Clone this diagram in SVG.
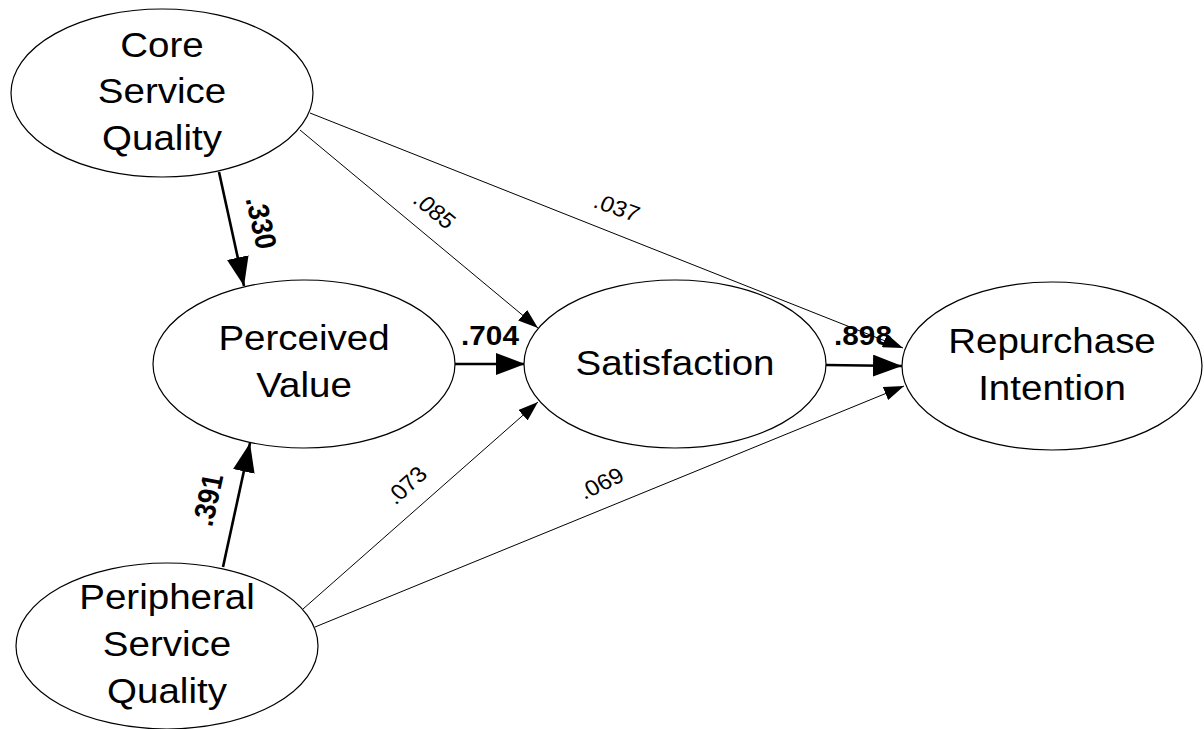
<svg xmlns="http://www.w3.org/2000/svg" width="1204" height="729" viewBox="0 0 1204 729">
<style>
  .node ellipse { fill: #fff; stroke: #000; stroke-width: 1.2; }
  .node text { font-family: "Liberation Sans", Arial, sans-serif; font-size: 35px; fill: #000; text-anchor: middle; }
  .thick { stroke: #000; stroke-width: 2.6; fill: none; marker-end: url(#ahBig); }
  .thin { stroke: #000; stroke-width: 1; fill: none; marker-end: url(#ahSmall); }
  .lbl { font-family: "Liberation Sans", Arial, sans-serif; font-size: 22px; fill: #000; text-anchor: middle; }
  .lblb { font-family: "Liberation Sans", Arial, sans-serif; font-size: 27px; font-weight: bold; fill: #000; text-anchor: middle; }
</style>
<defs>
  <marker id="ahBig" markerUnits="userSpaceOnUse" viewBox="0 0 29 22" markerWidth="29" markerHeight="22" refX="29" refY="11" orient="auto">
    <path d="M0,0 L29,11 L0,22 z" fill="#000"/>
  </marker>
  <marker id="ahSmall" markerUnits="userSpaceOnUse" viewBox="0 0 20 14" markerWidth="20" markerHeight="14" refX="20" refY="7" orient="auto">
    <path d="M0,0 L20,7 L0,14 z" fill="#000"/>
  </marker>
</defs>
<rect width="1204" height="729" fill="#fff"/>

<g id="connectors">
  <line class="thick" x1="219" y1="172" x2="244" y2="286"/>
  <line class="thick" x1="223" y1="567" x2="250" y2="443"/>
  <line class="thick" x1="455" y1="364" x2="525" y2="364"/>
  <line class="thick" x1="826" y1="365" x2="902" y2="366"/>
  <line class="thin" x1="300" y1="130" x2="538" y2="328"/>
  <line class="thin" x1="310" y1="113" x2="903" y2="348"/>
  <line class="thin" x1="303" y1="609" x2="538" y2="402"/>
  <line class="thin" x1="315" y1="627" x2="904" y2="386"/>
</g>

<g id="node-core" class="node">
  <ellipse cx="162" cy="93" rx="151" ry="84"/>
  <g transform="translate(162,93) scale(1.1,1)">
    <text x="0" y="-36">Core</text>
    <text x="0" y="10">Service</text>
    <text x="0" y="57">Quality</text>
  </g>
</g>

<g id="node-perceived" class="node">
  <ellipse cx="304" cy="364" rx="151" ry="84"/>
  <g transform="translate(304,364) scale(1.1,1)">
    <text x="0" y="-14">Perceived</text>
    <text x="0" y="33">Value</text>
  </g>
</g>

<g id="node-satisfaction" class="node">
  <ellipse cx="675" cy="364" rx="151" ry="84"/>
  <g transform="translate(675,364) scale(1.1,1)">
    <text x="0" y="11">Satisfaction</text>
  </g>
</g>

<g id="node-repurchase" class="node">
  <ellipse cx="1052" cy="366" rx="150" ry="84"/>
  <g transform="translate(1052,366) scale(1.1,1)">
    <text x="0" y="-13">Repurchase</text>
    <text x="0" y="34">Intention</text>
  </g>
</g>

<g id="node-peripheral" class="node">
  <ellipse cx="167" cy="646" rx="151" ry="83"/>
  <g transform="translate(167,646) scale(1.1,1)">
    <text x="0" y="-37">Peripheral</text>
    <text x="0" y="10">Service</text>
    <text x="0" y="57">Quality</text>
  </g>
</g>

<g id="labels">
  <text class="lblb" transform="translate(261,223) scale(1.1,1) rotate(78.7)" y="9">.330</text>
  <text class="lblb" transform="translate(208,500) scale(1.1,1) rotate(-78.8)" y="9">.391</text>
  <text class="lblb" transform="translate(490,345) scale(1.1,1)">.704</text>
  <text class="lblb" transform="translate(863,345) scale(1.1,1)">.898</text>
  <text class="lbl" transform="translate(435,210) scale(1.1,1) rotate(42)" y="8">.085</text>
  <text class="lbl" transform="translate(617,207) scale(1.1,1) rotate(21)" y="8">.037</text>
  <text class="lbl" transform="translate(406,485) scale(1.1,1) rotate(-45)" y="8">.073</text>
  <text class="lbl" transform="translate(601,483) scale(1.1,1) rotate(-28)" y="8">.069</text>
</g>
</svg>
